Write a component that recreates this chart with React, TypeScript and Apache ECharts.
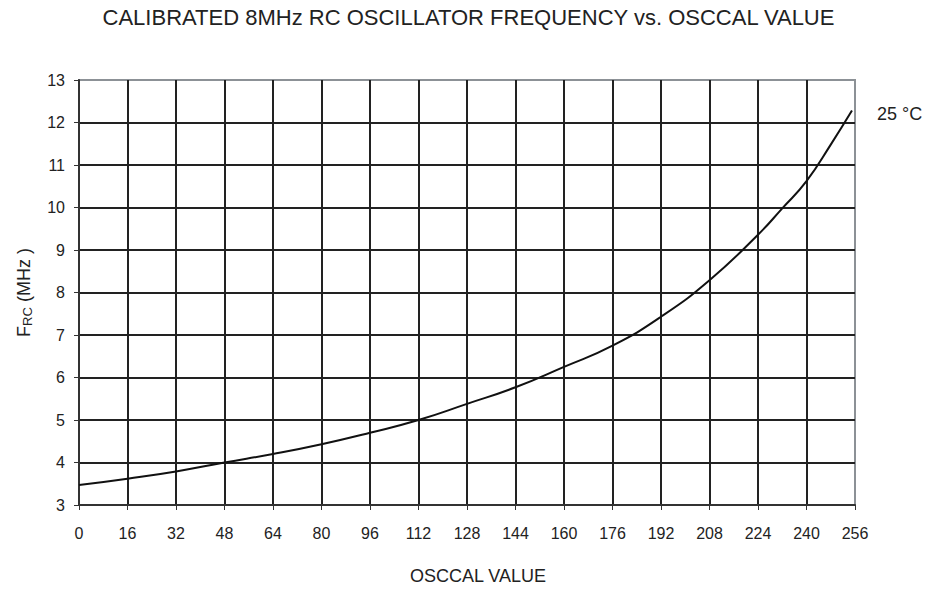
import React, { useEffect, useRef } from "react";
import * as echarts from "echarts";

const titleText = "CALIBRATED 8MHz RC OSCILLATOR FREQUENCY vs. OSCCAL VALUE";
const seriesLabel = "25 °C";
const xAxisName = "OSCCAL VALUE";
const oscal = [0, 16, 32, 48, 64, 80, 96, 112, 128, 144, 160, 176, 192, 208, 224, 232, 240, 248, 255];
const freq = [3.47, 3.62, 3.79, 4.0, 4.2, 4.43, 4.7, 5.0, 5.38, 5.77, 6.25, 6.75, 7.43, 8.29, 9.36, 9.98, 10.62, 11.48, 12.28];

export default function App() {
  const ref = useRef<HTMLDivElement>(null);
  useEffect(() => {
    if (!ref.current) return;
    const chart = echarts.init(ref.current, null, { renderer: "svg" });
    const font = "'Liberation Sans', Arial, sans-serif";
    chart.setOption({
      animation: false,
      backgroundColor: "#ffffff",
      textStyle: { fontFamily: font },
      title: {
        text: titleText,
        left: "center",
        top: 1,
        textStyle: { fontFamily: font, fontSize: 22, fontWeight: "normal", color: "#222" },
      },
      grid: {
        left: 79,
        right: 82,
        top: 80,
        bottom: 82,
        show: true,
        borderColor: "#8c9196",
        borderWidth: 2,
      },
      xAxis: {
        type: "value",
        min: 0,
        max: 256,
        interval: 16,
        name: xAxisName,
        nameLocation: "middle",
        nameGap: 62,
        nameTextStyle: { fontFamily: font, fontSize: 18, color: "#222", padding: [0, 0, 0, 22] },
        axisLine: { show: true, onZero: false, lineStyle: { color: "#333", width: 2 } },
        axisTick: { show: true, length: 5, lineStyle: { color: "#333", width: 1 } },
        axisLabel: { fontFamily: font, fontSize: 16, color: "#222", margin: 20 },
        splitLine: { show: true, showMinLine: false, showMaxLine: false, lineStyle: { color: "#222", width: 2 } },
      },
      yAxis: {
        type: "value",
        min: 3,
        max: 13,
        interval: 1,
        name: "{a|F}{b|RC}{a| (MHz )}",
        nameLocation: "middle",
        nameGap: 45,
        nameTextStyle: {
          rich: {
            a: { fontFamily: font, fontSize: 18, color: "#222" },
            b: { fontFamily: font, fontSize: 13, color: "#222", verticalAlign: "bottom", padding: [7, 0, 0, 0] },
          },
        },
        axisLine: { show: true, lineStyle: { color: "#333", width: 2 } },
        axisTick: { show: true, length: 5, lineStyle: { color: "#333", width: 1 } },
        axisLabel: { fontFamily: font, fontSize: 16, color: "#222", margin: 14 },
        splitLine: { show: true, showMinLine: false, showMaxLine: false, lineStyle: { color: "#222", width: 2 } },
      },
      series: [
        {
          type: "line",
          name: seriesLabel,
          data: oscal.map((x, i) => [x, freq[i]]),
          smooth: 0.5,
          showSymbol: false,
          lineStyle: { color: "#111", width: 2 },
          endLabel: {
            show: true,
            formatter: seriesLabel,
            offset: [17, 3],
            fontFamily: font,
            fontSize: 18,
            color: "#222",
          },
        },
      ],
    });
    return () => chart.dispose();
  }, []);
  return (
    <div
      ref={ref}
      style={{ position: "absolute", left: 0, top: 0, width: 937, height: 590 }}
    />
  );
}
